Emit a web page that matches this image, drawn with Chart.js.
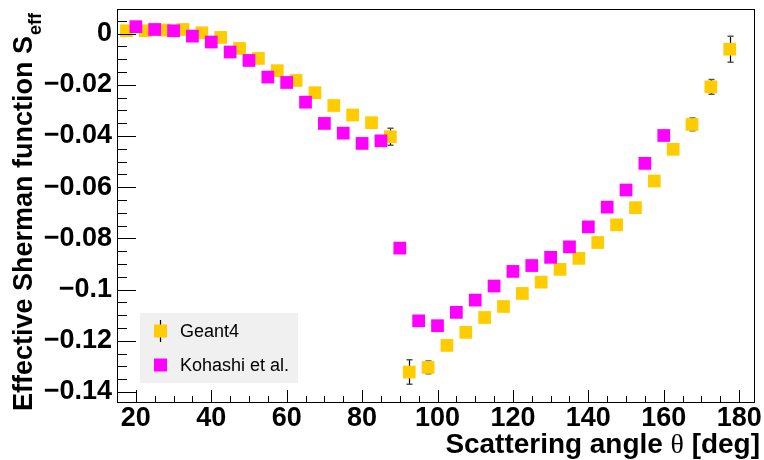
<!DOCTYPE html>
<html><head><meta charset="utf-8">
<script src="https://cdn.jsdelivr.net/npm/chart.js@4/dist/chart.umd.min.js"></script>
<style>html,body{margin:0;padding:0;background:#fff}</style>
</head><body>
<canvas id="c" width="764" height="460" style="width:764px;height:460px;display:block"></canvas>
<script>
// ---- data ----
const seriesNames = ['Geant4', 'Kohashi et al.'];
const geantAngles = [17.5,22.5,27.5,32.5,37.5,42.5,47.5,52.5,57.5,62.5,67.5,72.5,77.5,82.5,87.5,
  92.5,97.5,102.5,107.5,112.5,117.5,122.5,127.5,132.5,137.5,142.5,147.5,152.5,157.5,162.5,167.5,172.5,177.5];
const geantValues = [0.0011,0.0011,0.0014,0.0016,0.0003,-0.0015,-0.0058,-0.0097,-0.0145,-0.0183,-0.0231,-0.0281,-0.0318,-0.0348,-0.0403,
  -0.1322,-0.1304,-0.1218,-0.1167,-0.1109,-0.1066,-0.1015,-0.0971,-0.0921,-0.0878,-0.0816,-0.0747,-0.0680,-0.0576,-0.0452,-0.0355,-0.0208,-0.0061];
const geantErrors = [0.0008,0.0008,0.0008,0.0008,0.0008,0.0008,0.0009,0.0009,0.0010,0.0010,0.0011,0.0012,0.0013,0.0015,0.0033,
  0.0048,0.0025,0.0015,0.0012,0.0011,0.0010,0.0010,0.0010,0.0010,0.0010,0.0011,0.0012,0.0013,0.0015,0.0018,0.0025,0.0029,0.0051];
const kohashiAngles = [20,25,30,35,40,45,50,55,60,65,70,75,80,85,90,95,100,105,110,115,120,125,130,135,140,145,150,155,160];
const kohashiValues = [0.0027,0.0016,0.0011,-0.0010,-0.0033,-0.0072,-0.0105,-0.0170,-0.0191,-0.0268,-0.0351,-0.0389,-0.0429,-0.0419,
  -0.0838,-0.1122,-0.1141,-0.1089,-0.1041,-0.0986,-0.0929,-0.0906,-0.0874,-0.0833,-0.0755,-0.0678,-0.0611,-0.0507,-0.0398];
const xTickValues = [20,40,60,80,100,120,140,160,180];
const yTickValues = [0,-0.02,-0.04,-0.06,-0.08,-0.1,-0.12,-0.14];
const xMinorStep = 5, yMinorStep = 0.005;
const xTitleParts = ['Scattering angle ', '\u03B8', ' [deg]'];
const yTitleMain = 'Effective Sherman function S';
const yTitleSub = 'eff';

const FONT = '"Liberation Sans", Arial, Helvetica, sans-serif';
const GEANT_COLOR = '#ffcc00', KOHASHI_COLOR = '#ff00ff';

function zeroPad(s) { s.paddingTop = 0; s.paddingBottom = 0; s.paddingLeft = 0; s.paddingRight = 0; }

const rootPlugin = {
  id: 'rootStyle',
  beforeDatasetsDraw(chart) {
    const ctx = chart.ctx, xs = chart.scales.x, ys = chart.scales.y;
    const ds = chart.data.datasets[1];
    ctx.save();
    ds.data.forEach((p, i) => {
      const e = ds.errors[i];
      const px = Math.round(xs.getPixelForValue(p.x)) + 0.5;
      const y1 = ys.getPixelForValue(p.y + e), y2 = ys.getPixelForValue(p.y - e);
      ctx.strokeStyle = '#000'; ctx.lineWidth = 1.2;
      ctx.beginPath(); ctx.moveTo(px, y1); ctx.lineTo(px, y2); ctx.stroke();
      ctx.strokeStyle = '#555'; ctx.lineWidth = 1.5;
      ctx.beginPath(); ctx.moveTo(px - 3, y1); ctx.lineTo(px + 3, y1);
      ctx.moveTo(px - 3, y2); ctx.lineTo(px + 3, y2); ctx.stroke();
    });
    ctx.restore();
  },
  afterDraw(chart) {
    const ctx = chart.ctx, xs = chart.scales.x, ys = chart.scales.y, a = chart.chartArea;
    ctx.save();
    // frame
    ctx.strokeStyle = '#000'; ctx.lineWidth = 1;
    ctx.strokeRect(Math.round(a.left) + 0.5, Math.round(a.top) + 0.5, Math.round(a.right - a.left) - 1, Math.round(a.bottom - a.top));
    // x ticks (inside)
    ctx.beginPath();
    for (let v = Math.ceil(xs.min / xMinorStep) * xMinorStep; v <= xs.max; v += xMinorStep) {
      const px = Math.round(xs.getPixelForValue(v)) + 0.5;
      const major = xTickValues.some(t => Math.abs(t - v) < 1e-6);
      ctx.moveTo(px, a.bottom); ctx.lineTo(px, a.bottom - (major ? 12 : 6));
    }
    // y ticks (inside)
    const n0 = Math.ceil(ys.min / yMinorStep - 1e-6), n1 = Math.floor(ys.max / yMinorStep + 1e-6);
    for (let k = n0; k <= n1; k++) {
      const v = k * yMinorStep;
      const py = Math.round(ys.getPixelForValue(v)) + 0.5;
      const major = yTickValues.some(t => Math.abs(t - v) < 1e-6);
      ctx.moveTo(a.left, py); ctx.lineTo(a.left + (major ? 19 : 10), py);
    }
    ctx.stroke();

    // legend
    ctx.fillStyle = '#f0f0f0';
    ctx.fillRect(140, 313, 158, 70);
    const ly = [331, 365];
    const colors = [GEANT_COLOR, KOHASHI_COLOR];
    ctx.strokeStyle = '#000'; ctx.lineWidth = 1.2;
    ctx.beginPath(); ctx.moveTo(160.5, ly[0] - 11); ctx.lineTo(160.5, ly[0] + 11); ctx.stroke();
    for (let i = 0; i < 2; i++) {
      ctx.fillStyle = colors[i];
      ctx.fillRect(154, ly[i] - 6.5, 13, 13);
      ctx.fillStyle = '#000';
      ctx.font = '18px ' + FONT;
      ctx.textAlign = 'left'; ctx.textBaseline = 'middle';
      ctx.fillText(seriesNames[i], 180, ly[i] + 1);
    }

    // x title (slightly widened like ROOT's Helvetica)
    const fB = 'bold 27px ' + FONT, fS = '27px "Liberation Serif", "DejaVu Serif", serif';
    const fonts = [fB, fS, fB];
    const sx = 1.035;
    ctx.textAlign = 'left'; ctx.textBaseline = 'alphabetic'; ctx.fillStyle = '#000';
    const widths = xTitleParts.map((t, i) => { ctx.font = fonts[i]; return ctx.measureText(t).width; });
    const total = widths.reduce((s, w) => s + w, 0) * sx;
    ctx.save();
    ctx.translate(760 - total, 453);
    ctx.scale(sx, 1);
    let x = 0;
    xTitleParts.forEach((t, i) => { ctx.font = fonts[i]; ctx.fillText(t, x, 0); x += widths[i]; });
    ctx.restore();

    // y title (rotated)
    ctx.textAlign = 'left'; ctx.textBaseline = 'alphabetic'; ctx.fillStyle = '#000';
    ctx.translate(32, 411);
    ctx.rotate(-Math.PI / 2);
    ctx.font = fB;
    ctx.fillText(yTitleMain, 0, 0);
    const wm = ctx.measureText(yTitleMain).width;
    ctx.font = 'bold 18px ' + FONT;
    ctx.fillText(yTitleSub, wm + 1, 9);
    ctx.restore();
  }
};

new Chart(document.getElementById('c').getContext('2d'), {
  type: 'scatter',
  data: {
    datasets: [
      { label: seriesNames[1], data: kohashiAngles.map((x, i) => ({ x, y: kohashiValues[i] })),
        pointStyle: 'rect', pointRadius: 9, pointHoverRadius: 9, backgroundColor: KOHASHI_COLOR, borderWidth: 0, order: 0 },
      { label: seriesNames[0], data: geantAngles.map((x, i) => ({ x, y: geantValues[i] })), errors: geantErrors,
        pointStyle: 'rect', pointRadius: 9, pointHoverRadius: 9, backgroundColor: GEANT_COLOR, borderWidth: 0, order: 1 }
    ]
  },
  options: {
    responsive: false, animation: false, devicePixelRatio: 1,
    layout: { padding: { top: 9, right: 4, left: 0, bottom: 0 } },
    plugins: { legend: { display: false }, tooltip: { enabled: false } },
    scales: {
      x: {
        type: 'linear', min: 15, max: 184.2,
        afterBuildTicks: s => { s.ticks = xTickValues.map(v => ({ value: v })); },
        afterFit: s => { s.height = 58; zeroPad(s); },
        grid: { display: false, drawTicks: false }, border: { display: false },
        ticks: { font: { family: FONT, size: 27, weight: 'bold' }, color: '#000', padding: 0,
                 maxRotation: 0, autoSkip: false, callback: v => String(v) }
      },
      y: {
        type: 'linear', min: -0.1439, max: 0.0096,
        afterBuildTicks: s => { s.ticks = yTickValues.map(v => ({ value: v })); },
        afterFit: s => { s.width = 117; zeroPad(s); },
        grid: { display: false, drawTicks: false }, border: { display: false },
        ticks: { font: { family: FONT, size: 27, weight: 'bold' }, color: '#000', padding: 5, autoSkip: false,
                 callback: v => v === 0 ? '0' : (v < 0 ? '\u2212' : '') + String(Math.abs(v)) }
      }
    }
  },
  plugins: [rootPlugin]
});
</script>
</body></html>
